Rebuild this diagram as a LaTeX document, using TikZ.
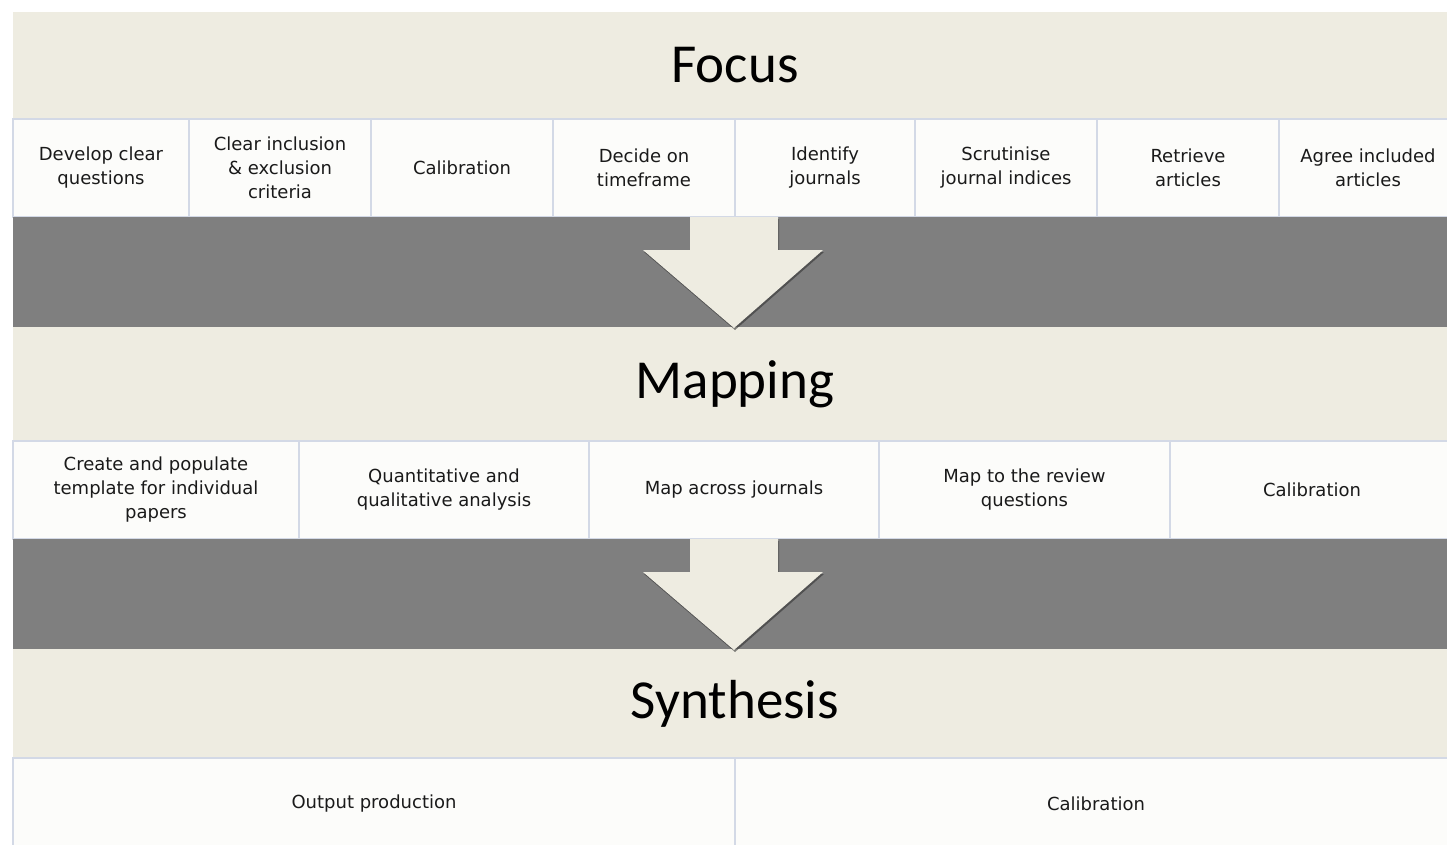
\documentclass[tikz,border=0pt]{standalone}
\usepackage{fontspec}
\setmainfont{DejaVu Sans}
\newfontfamily\headfont{Carlito}
\usetikzlibrary{positioning,shadows}

\definecolor{tanband}{HTML}{EEECE1}
\definecolor{greyband}{HTML}{7F7F7F}
\definecolor{cellfill}{HTML}{FCFCFA}
\definecolor{cellline}{HTML}{D3D9E6}
\definecolor{textdark}{HTML}{1A1A1A}

\begin{document}
\begin{tikzpicture}[x=1pt,y=-1pt,
    band/.style={fill=tanband, minimum width=1444pt, anchor=north west,
                 inner sep=0pt, outer sep=0pt, text=black,
                 font=\headfont\fontsize{55}{60}\selectfont},
    gap/.style={fill=greyband, minimum width=1444pt, anchor=north west,
                inner sep=0pt, outer sep=0pt},
    cell/.style={draw=cellline, line width=1.5pt, fill=cellfill,
                 anchor=north west, inner sep=0pt, outer sep=0pt,
                 align=center, text=textdark,
                 font=\fontsize{18}{24}\selectfont},
    flow/.style={fill=tanband, drop shadow={shadow xshift=1pt,
                 shadow yshift=-2pt, opacity=0.6, fill=black!80}}]

  \useasboundingbox (0,0) rectangle (1447,845);
  \clip (0,0) rectangle (1447,845);

  % focus stage
  \node[band, minimum height=107pt] (focus) at (13,12) {Focus};
  \node[cell, minimum width=176pt, minimum height=98pt] (f1) at (focus.south west) {Develop clear\\questions};
  \node[cell, minimum width=182pt, minimum height=98pt] (f2) [right=0pt of f1] {Clear inclusion\\\& exclusion\\criteria};
  \node[cell, minimum width=182pt, minimum height=98pt] (f3) [right=0pt of f2] {Calibration};
  \node[cell, minimum width=182pt, minimum height=98pt] (f4) [right=0pt of f3] {Decide on\\timeframe};
  \node[cell, minimum width=180pt, minimum height=98pt] (f5) [right=0pt of f4] {Identify\\journals};
  \node[cell, minimum width=182pt, minimum height=98pt] (f6) [right=0pt of f5] {Scrutinise\\journal indices};
  \node[cell, minimum width=182pt, minimum height=98pt] (f7) [right=0pt of f6] {Retrieve\\articles};
  \node[cell, minimum width=178pt, minimum height=98pt] (f8) [right=0pt of f7] {Agree included\\articles};

  \node[gap, minimum height=110pt] (g1) at (f1.south west) {};

  % mapping stage
  \node[band, minimum height=114pt] (mapping) at (g1.south west) {Mapping};
  \node[cell, minimum width=286pt, minimum height=98pt] (m1) at (mapping.south west) {Create and populate\\template for individual\\papers};
  \node[cell, minimum width=290pt, minimum height=98pt] (m2) [right=0pt of m1] {Quantitative and\\qualitative analysis};
  \node[cell, minimum width=290pt, minimum height=98pt] (m3) [right=0pt of m2] {Map across journals};
  \node[cell, minimum width=291pt, minimum height=98pt] (m4) [right=0pt of m3] {Map to the review\\questions};
  \node[cell, minimum width=284pt, minimum height=98pt] (m5) [right=0pt of m4] {Calibration};

  \node[gap, minimum height=110pt] (g2) at (m1.south west) {};

  % synthesis stage
  \node[band, minimum height=109pt] (synthesis) at (g2.south west) {Synthesis};
  \node[cell, minimum width=722pt, minimum height=92pt] (s1) at (synthesis.south west) {Output production};
  \node[cell, minimum width=722pt, minimum height=92pt] (s2) [right=0pt of s1] {Calibration};

  % block arrows between the stages
  \coordinate (a1) at (734,217);
  \coordinate (a2) at (734,539);
  \path[flow] (a1) ++(-44,0) -- ++(0,33) -- ++(-47,0) -- ++(91,78)
              -- ++(89,-78) -- ++(-45,0) -- ++(0,-33) -- cycle;
  \path[flow] (a2) ++(-44,0) -- ++(0,33) -- ++(-47,0) -- ++(91,78)
              -- ++(89,-78) -- ++(-45,0) -- ++(0,-33) -- cycle;
\end{tikzpicture}
\end{document}
